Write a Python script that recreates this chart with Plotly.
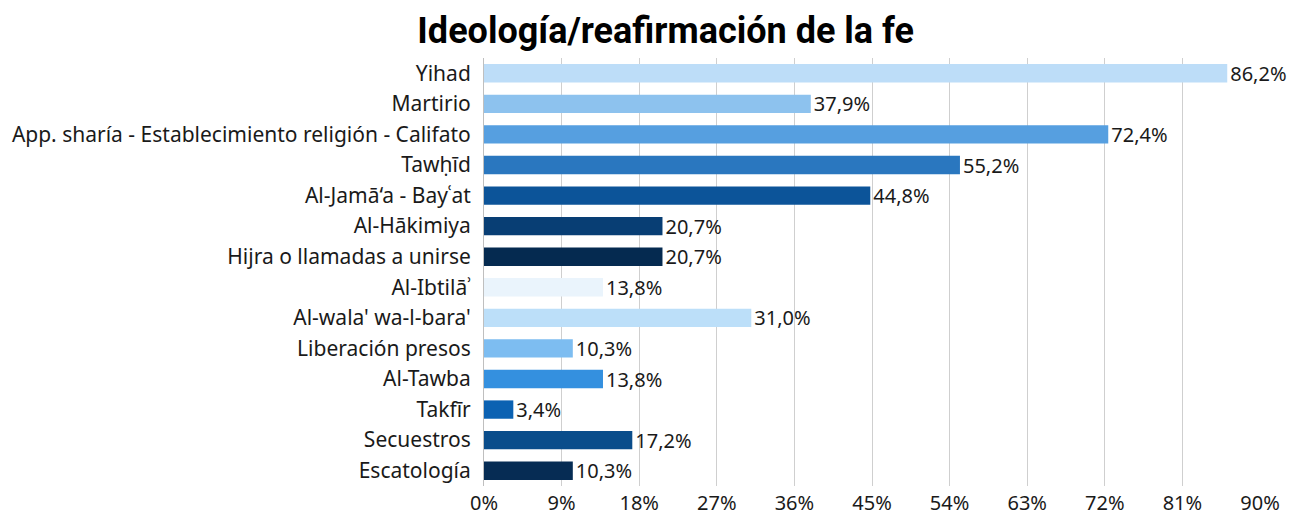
import plotly.graph_objects as go

categories = [
    "Yihad", "Martirio", "App. sharía - Establecimiento religión - Califato",
    "Tawḥīd", "Al-Jamā‘a - Bayʿat", "Al-Hākimiya", "Hijra o llamadas a unirse",
    "Al-Ibtilāʾ", "Al-wala' wa-l-bara'", "Liberación presos", "Al-Tawba",
    "Takfīr", "Secuestros", "Escatología",
]
values = [86.2, 37.9, 72.4, 55.2, 44.8, 20.7, 20.7, 13.8, 31.0, 10.3, 13.8, 3.4, 17.2, 10.3]
colors = [
    "#BDDDF8", "#8DC2EE", "#569FE0", "#2A77BF", "#0C5499", "#083E74", "#052A50",
    "#EAF4FC", "#BCDFF9", "#7DBDF1", "#3490DF", "#0C62B2", "#0A4D8B", "#062C54",
]
tick_vals = [0, 9, 18, 27, 36, 45, 54, 63, 72, 81, 90]
tick_text = [f"{v}%" for v in tick_vals]
labels = [f"{v:.1f}".replace(".", ",") + "%" for v in values]

font_family = "Noto Sans, Open Sans, sans-serif"

fig = go.Figure(go.Bar(
    x=values, y=categories, orientation="h",
    marker=dict(color=colors, line=dict(width=0)),
    text=labels, textposition="outside", cliponaxis=False, constraintext="none",
    textfont=dict(size=20, color="#1a1a1a", family=font_family),
    hoverinfo="skip",
))

fig.update_layout(
    width=1290, height=518,
    margin=dict(l=484, r=30, t=58, b=32, autoexpand=False),
    paper_bgcolor="white", plot_bgcolor="white",
    font=dict(family=font_family, size=21, color="#1a1a1a"),
    title=dict(text="<b>Ideología/reafirmación de la fe</b>", x=0.516, xanchor="center",
               y=0.966, yanchor="top",
               font=dict(size=36, color="#000000", family="Roboto, Noto Sans, sans-serif")),
    bargap=0.4,
    showlegend=False,
)
fig.update_xaxes(range=[0, 90], tickvals=tick_vals, ticktext=tick_text, automargin=False,
                 showgrid=True, gridcolor="#CFCFCF", gridwidth=1, zeroline=False,
                 showline=False, ticks="", tickfont=dict(size=20), ticklabelstandoff=3)
fig.update_yaxes(autorange="reversed", showline=True, linecolor="#BFBFBF", linewidth=1,
                 automargin=False, ticks="", tickfont=dict(size=21), ticklabelstandoff=8)

fig.write_html(
    "out.html",
    config={"displayModeBar": False},
    post_script="document.body.style.margin='0';document.body.style.overflow='hidden';",
)
